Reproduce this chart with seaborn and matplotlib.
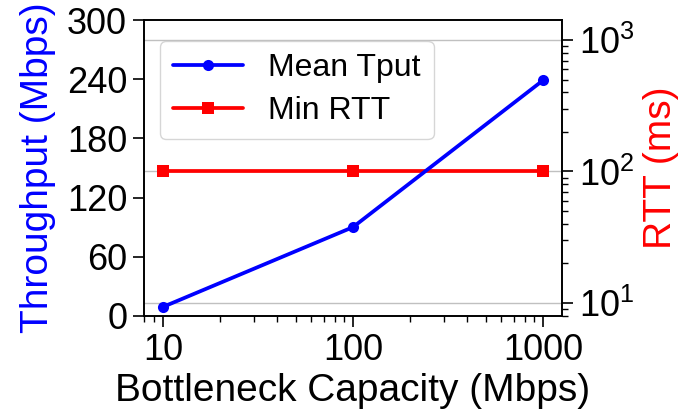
import matplotlib
matplotlib.use("Agg")
import matplotlib.pyplot as plt
import matplotlib.ticker as mticker
import pandas as pd
import seaborn as sns

capacity = [10, 100, 1000]
mean_tput = [9, 90, 239]
min_rtt = [100, 100, 100]

df = pd.DataFrame({"capacity": capacity, "tput": mean_tput, "rtt": min_rtt})

sns.set_theme(style="ticks")
plt.rcParams["font.family"] = ["Liberation Sans", "DejaVu Sans"]
plt.rcParams["mathtext.fontset"] = "custom"
plt.rcParams["mathtext.rm"] = "Liberation Sans"
plt.rcParams["mathtext.it"] = "Liberation Sans:italic"
plt.rcParams["text.color"] = "black"
plt.rcParams["axes.labelcolor"] = "black"
plt.rcParams["xtick.color"] = "black"
plt.rcParams["ytick.color"] = "black"

fig = plt.figure(figsize=(6.88, 4.2), dpi=100)
ax = fig.add_axes([0.209, 0.248, 0.608, 0.704])
ax2 = ax.twinx()

# left axis: throughput
sns.lineplot(x="capacity", y="tput", data=df, ax=ax, color="blue", marker="o",
             markersize=8, markeredgewidth=0, linewidth=2.7, label="Mean Tput")
# right axis: rtt
sns.lineplot(x="capacity", y="rtt", data=df, ax=ax2, color="red", marker="s",
             markersize=9, markeredgewidth=0, linewidth=2.7, label="Min RTT")

ax.set_zorder(ax2.get_zorder() + 1)
ax.patch.set_visible(False)

ax.set_xscale("log")
ax.set_xlim(7.94, 1259)
ax.xaxis.set_major_formatter(mticker.ScalarFormatter())
ax.set_xticks([10, 100, 1000])
ax.set_ylim(0, 300)
ax.set_yticks([0, 60, 120, 180, 240, 300])

ax2.set_yscale("log")
ax2.set_ylim(7.96, 1420)
ax2.grid(True, axis="y", which="major", color="#c0c0c0", linewidth=1)
ax.grid(False)

ax.set_xlabel("Bottleneck Capacity (Mbps)", fontsize=28, color="black", labelpad=4)
ax.set_ylabel("Throughput (Mbps)", fontsize=28, color="blue", labelpad=8)
ax2.set_ylabel("RTT (ms)", fontsize=28, color="red", labelpad=6)

for a in (ax, ax2):
    a.tick_params(axis="both", which="major", labelsize=26, length=8, width=1.2,
                  colors="black", direction="out", pad=4)
    a.tick_params(axis="both", which="minor", length=4, width=1, direction="out")
    for s in a.spines.values():
        s.set_color("black")
        s.set_linewidth(1.2)

h1, l1 = ax.get_legend_handles_labels()
h2, l2 = ax2.get_legend_handles_labels()
if ax2.get_legend() is not None:
    ax2.get_legend().remove()
leg = ax.legend(h1 + h2, l1 + l2, loc="upper left", fontsize=23, handlelength=2.2,
                frameon=True, fancybox=True, edgecolor="#cccccc", framealpha=0.8,
                borderpad=0.4, labelspacing=0.4, bbox_to_anchor=(0.0, 0.985))
for t in leg.get_texts():
    t.set_color("black")

fig.savefig("out.png", dpi=100)
